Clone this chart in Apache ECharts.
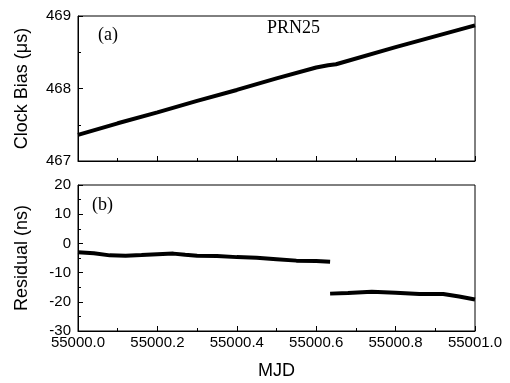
<!DOCTYPE html>
<html>
<head>
<meta charset="utf-8">
<script src="https://cdn.jsdelivr.net/npm/echarts@6/dist/echarts.min.js"></script>
<style>
  html, body { margin: 0; padding: 0; background: #fff; }
  #chart { width: 510px; height: 383px; }
</style>
</head>
<body>
<div id="chart"></div>
<script>
// (a) clock bias, MJD vs µs
const biasMjd = [55000.0, 55000.1, 55000.2, 55000.3, 55000.4, 55000.5, 55000.6, 55000.63, 55000.65, 55000.8, 55001.0];
const biasUs = [467.36, 467.52, 467.67, 467.83, 467.98, 468.14, 468.29, 468.32, 468.335, 468.57, 468.87];

// (b) residual, two pieces with a jump near 55000.635
const resMjdA = [55000.0, 55000.04, 55000.08, 55000.12, 55000.16, 55000.2, 55000.24, 55000.27, 55000.3, 55000.35, 55000.4, 55000.45, 55000.5, 55000.55, 55000.6, 55000.635];
const resNsA = [-3.0, -3.4, -4.1, -4.2, -4.0, -3.7, -3.5, -3.9, -4.2, -4.3, -4.7, -4.9, -5.4, -5.9, -6.0, -6.3];
const resMjdB = [55000.635, 55000.68, 55000.74, 55000.8, 55000.86, 55000.92, 55000.96, 55001.0];
const resNsB = [-17.2, -17.0, -16.6, -16.9, -17.3, -17.3, -18.2, -19.2];

const xTicks = { min: 55000, max: 55001, interval: 0.2 };

const pair = (xs, ys) => xs.map((x, i) => [x, ys[i]]);

const chart = echarts.init(document.getElementById("chart"));

const axisCommon = {
  axisLine: { show: true, onZero: false, lineStyle: { color: "#000", width: 1 } },
  axisTick: { show: true, inside: true, length: 5, lineStyle: { color: "#000" } },
  minorTick: { show: true, splitNumber: 2, length: 3, lineStyle: { color: "#000" } },
  splitLine: { show: false },
  axisLabel: { color: "#000", fontFamily: "Liberation Sans", fontSize: 15, margin: 7 },
  nameTextStyle: { color: "#000", fontFamily: "Liberation Sans", fontSize: 18 },
};

const serif = "18px 'Liberation Serif'";

chart.setOption({
  animation: false,
  backgroundColor: "#fff",
  grid: [
    { left: 78, top: 16, width: 397, height: 145, show: true, borderColor: "#000", borderWidth: 1 },
    { left: 78, top: 185, width: 397, height: 146, show: true, borderColor: "#000", borderWidth: 1 },
  ],
  xAxis: [
    { ...axisCommon, gridIndex: 0, type: "value", ...xTicks, axisLabel: { show: false } },
    {
      ...axisCommon, gridIndex: 1, type: "value", ...xTicks,
      axisLabel: { ...axisCommon.axisLabel, margin: 4, formatter: (v) => v.toFixed(1), showMinLabel: true, showMaxLabel: true },
      name: "MJD", nameLocation: "middle", nameGap: 31,
    },
  ],
  yAxis: [
    {
      ...axisCommon, gridIndex: 0, type: "value", min: 467, max: 469, interval: 1,
      name: "Clock Bias (\u03bcs)", nameLocation: "middle", nameGap: 47,
    },
    {
      ...axisCommon, gridIndex: 1, type: "value", min: -30, max: 20, interval: 10,
      name: "Residual (ns)", nameLocation: "middle", nameGap: 47,
    },
  ],
  series: [
    {
      type: "line", xAxisIndex: 0, yAxisIndex: 0, data: pair(biasMjd, biasUs),
      showSymbol: false, lineStyle: { color: "#000", width: 4 },
    },
    {
      type: "line", xAxisIndex: 1, yAxisIndex: 1, data: pair(resMjdA, resNsA),
      showSymbol: false, lineStyle: { color: "#000", width: 4 },
    },
    {
      type: "line", xAxisIndex: 1, yAxisIndex: 1, data: pair(resMjdB, resNsB),
      showSymbol: false, lineStyle: { color: "#000", width: 4 },
    },
  ],
  graphic: [
    { type: "text", left: 98, top: 26, style: { text: "(a)", font: serif, fill: "#000" } },
    { type: "text", left: 267, top: 19, style: { text: "PRN25", font: serif, fill: "#000" } },
    { type: "text", left: 92, top: 196, style: { text: "(b)", font: serif, fill: "#000" } },
  ],
});
</script>
</body>
</html>
